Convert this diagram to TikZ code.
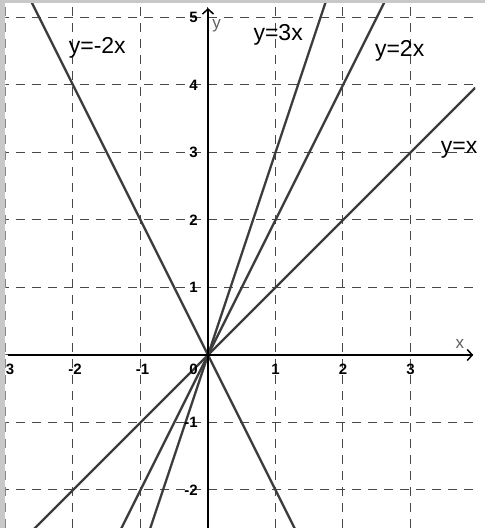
\documentclass[tikz,border=0pt]{standalone}
\usepackage{fontspec}
\setmainfont{Liberation Sans}
\usetikzlibrary{arrows.meta}
\definecolor{gridgray}{HTML}{484848}
\definecolor{plotgray}{HTML}{3C3C3C}
\definecolor{framegray}{HTML}{C8C8C8}
\definecolor{axisgray}{HTML}{606060}

\begin{document}
\begin{tikzpicture}[x=67.5bp,y=67.5bp,
	gridline/.style={draw=gridgray,line width=1bp,dash pattern=on 9bp off 7bp},
	plotline/.style={draw=plotgray,line width=2.3bp},
	axisline/.style={draw=black,line width=1.5bp,-{Straight Barb[length=5bp,width=11bp]}},
	ticklabel/.style={font=\fontsize{15bp}{17bp}\selectfont\bfseries,inner sep=0pt},
	funclabel/.style={font=\fontsize{23bp}{25bp}\selectfont,inner sep=0pt}]
				\useasboundingbox (-3.081,-2.563) rectangle (4.104,5.259);
				\begin{scope}
				\clip (-3.0,-2.563) rectangle (3.96,5.2);
				\draw[gridline,step=1] (-3.081,-2.563) grid (3.96,5.2);
				\draw[plotline] (-3,-3) -- (3.96,3.96);
				\draw[plotline] (-1.5,-3) -- (3,6);
				\draw[plotline] (-1,-3) -- (2,6);
				\draw[plotline] (-3,6) -- (1.5,-3);
				\end{scope}
				\draw[axisline] (-2.96,0) -- (3.93,0);
				\draw[axisline] (0,-2.563) -- (0,5.14);
				\node (xname) [font=\fontsize{17bp}{19bp}\selectfont,text=axisgray,inner sep=0pt] at (3.73,0.17) {x};
				\node (yname) [font=\fontsize{17bp}{19bp}\selectfont,text=axisgray,inner sep=0pt] at (0.13,4.87) {y};
				\node (xm3) [ticklabel] at (-2.97,-0.207) {-3};
				\node (xm2) [ticklabel] at (-1.97,-0.207) {-2};
				\node (xm1) [ticklabel] at (-0.97,-0.207) {-1};
				\node (x0) [ticklabel] at (-0.215,-0.207) {0};
				\node (x1) [ticklabel] at (1,-0.207) {1};
				\node (x2) [ticklabel] at (2,-0.207) {2};
				\node (x3) [ticklabel] at (3,-0.207) {3};
				\node (y5) [ticklabel,anchor=east] at (-0.148,5) {5};
				\node (y4) [ticklabel,anchor=east] at (-0.148,4) {4};
				\node (y3) [ticklabel,anchor=east] at (-0.148,3) {3};
				\node (y2) [ticklabel,anchor=east] at (-0.148,2) {2};
				\node (y1) [ticklabel,anchor=east] at (-0.148,1) {1};
				\node (ym1) [ticklabel,anchor=east] at (-0.148,-1) {-1};
				\node (ym2) [ticklabel,anchor=east] at (-0.148,-2) {-2};
				\node (lminus2x) [funclabel] at (-1.64,4.55) {y=-2x};
				\node (l3x) [funclabel] at (1.04,4.74) {y=3x};
				\node (l2x) [funclabel] at (2.84,4.50) {y=2x};
				\node (lx) [funclabel] at (3.72,3.04) {y=x};
				\fill[framegray] (-3.081,-2.563) rectangle (-3.01,5.259);
				\fill[framegray] (-3.081,5.21) rectangle (4.104,5.259);
	\end{tikzpicture}
\end{document}
